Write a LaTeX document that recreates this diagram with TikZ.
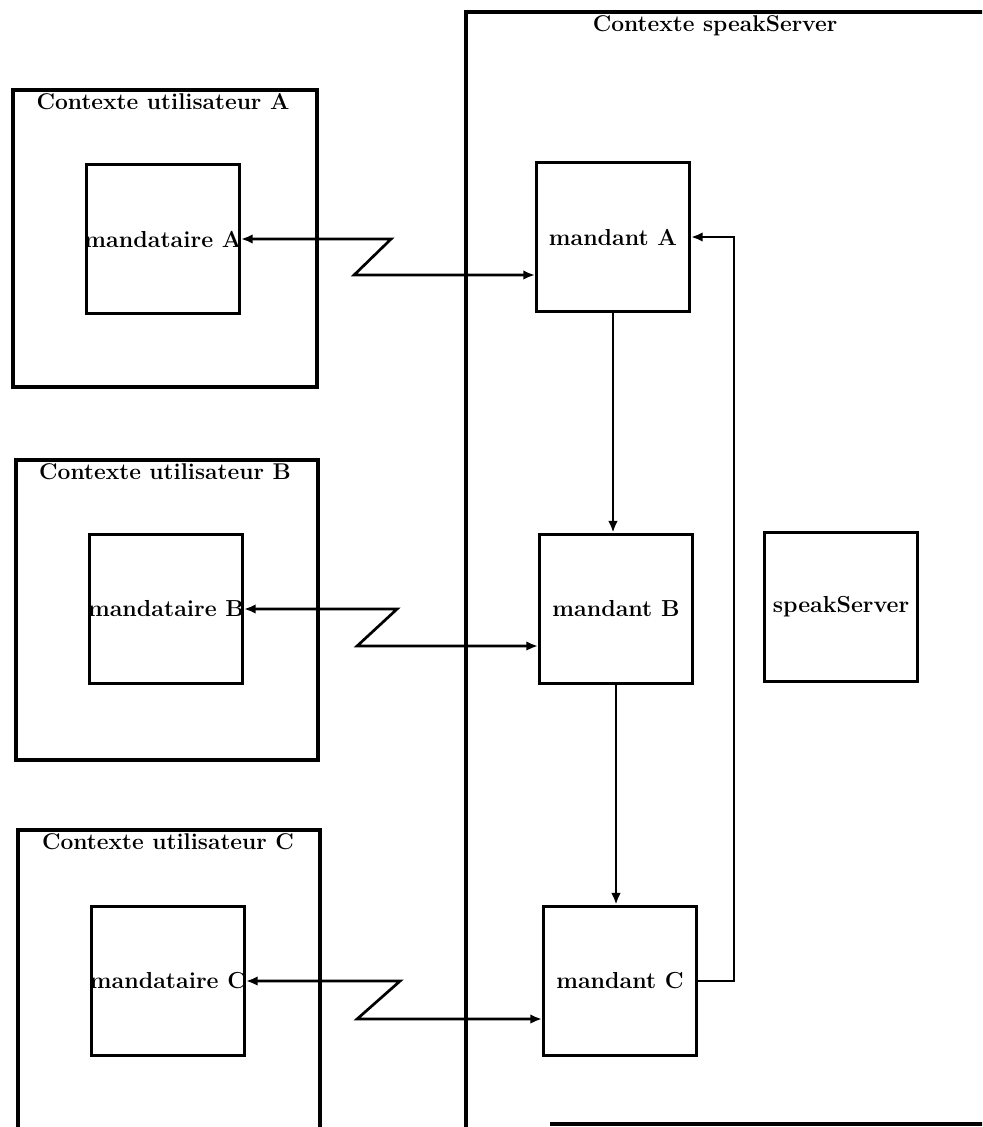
\documentclass[tikz,border=0pt]{standalone}
\usepackage{tikz}
\usetikzlibrary{calc,arrows.meta}
\tikzset{
  ctx/.style={draw=black, line width=1.9pt},
  box/.style={draw=black, line width=1.8pt, minimum width=2.78cm, minimum height=2.72cm, inner sep=0pt},
  lab/.style={font=\fontsize{12}{14}\selectfont\bfseries, inner sep=0pt},
  title/.style={font=\fontsize{11.8}{14}\selectfont\bfseries, anchor=north, inner sep=1pt},
  link/.style={line width=1.4pt, {Latex[length=6pt,width=5pt]}-{Latex[length=6pt,width=5pt]}},
  flow/.style={line width=1.4pt, -{Latex[length=6pt,width=5pt]}}
}
\begin{document}
\begin{tikzpicture}[x=0.0182cm, y=-0.0182cm]
  \useasboundingbox (0,0) rectangle (982,1127);
  \clip (0,0) rectangle (982,1127);

  % user contexts
  \draw[ctx] (13,90) rectangle (317,387);
  \draw[ctx] (16,460) rectangle (318,760);
  \draw[ctx] (18,830) rectangle (320,1160);
  \node[title] (tA) at (163,91) {Contexte utilisateur A};
  \node[title] (tB) at (165,461) {Contexte utilisateur B};
  \node[title] (tC) at (168,831) {Contexte utilisateur C};

  % server context
  \draw[ctx] (466,1160) -- (466,12) -- (1000,12);
  \draw[ctx] (550,1124) -- (1000,1124);
  \node[title] (tS) at (715,13) {Contexte speakServer};

  % proxies
  \node[box] (mtA) at (163,239) {};
  \node[box] (mtB) at (166,609) {};
  \node[box] (mtC) at (168,981) {};
  \node[lab] (mtAl) at (mtA) {mandataire A};
  \node[lab] (mtBl) at (mtB) {mandataire B};
  \node[lab] (mtCl) at (mtC) {mandataire C};

  % principals
  \node[box] (mA) at (613,237) {};
  \node[box] (mB) at (616,609) {};
  \node[box] (mC) at (620,981) {};
  \node[box] (srv) at (841,607) {};
  \node[lab] (mAl) at (mA) {mandant A};
  \node[lab] (mBl) at (mB) {mandant B};
  \node[lab] (mCl) at (mC) {mandant C};
  \node[lab] (srvl) at (srv) {speakServer};

  % remote links
  \draw[link] (mtA.east) -- ++(150,0) -- ++(-37,36) coordinate (zA) -- (zA -| mA.west);
  \draw[link] (mtB.east) -- ++(153,0) -- ++(-40,37) coordinate (zB) -- (zB -| mB.west);
  \draw[link] (mtC.east) -- ++(154,0) -- ++(-43,38) coordinate (zC) -- (zC -| mC.west);

  % chain
  \draw[flow] (mA.south) -- (mA.south |- mB.north);
  \draw[flow] (mB.south) -- (mB.south |- mC.north);
  \draw[flow] (mC.east) -- ++(36,0) |- (mA.east);
\end{tikzpicture}
\end{document}
